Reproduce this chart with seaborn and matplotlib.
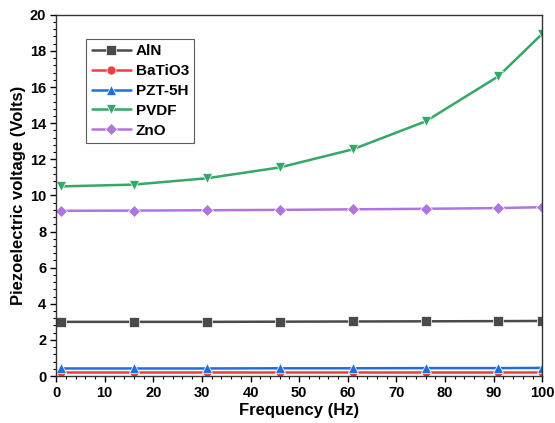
import numpy as np
import pandas as pd
import matplotlib
matplotlib.use("Agg")
import matplotlib.pyplot as plt
import seaborn as sns
from matplotlib.ticker import MultipleLocator


FREQ = [1, 16, 31, 46, 61, 76, 91, 100]

ALN = [3.0, 3.0, 3.0, 3.01, 3.02, 3.03, 3.04, 3.05]
BATIO3 = [0.25, 0.25, 0.25, 0.25, 0.25, 0.25, 0.25, 0.25]
PZT5H = [0.42, 0.42, 0.42, 0.43, 0.43, 0.44, 0.44, 0.45]
PVDF = [10.5, 10.6, 10.95, 11.55, 12.55, 14.1, 16.6, 18.95]
ZNO = [9.15, 9.16, 9.18, 9.2, 9.23, 9.26, 9.3, 9.35]

MATERIALS = ["AlN", "BaTiO3", "PZT-5H", "PVDF", "ZnO"]
COLORS = ["#4a4a4a", "#f03c3c", "#1f6ee0", "#34a866", "#b074e0"]
MARKERS = ["s", "o", "^", "v", "D"]


def main():
    sns.set_style("ticks")
    plt.rcParams["font.family"] = ["Liberation Sans", "DejaVu Sans"]
    plt.rcParams["font.weight"] = "bold"
    plt.rcParams["text.color"] = "black"
    plt.rcParams["axes.labelcolor"] = "black"
    plt.rcParams["xtick.color"] = "black"
    plt.rcParams["ytick.color"] = "black"

    frames = []
    for name, vals in zip(MATERIALS, [ALN, BATIO3, PZT5H, PVDF, ZNO]):
        frames.append(pd.DataFrame({"Frequency": FREQ, "Voltage": vals, "Material": name}))
    df = pd.concat(frames, ignore_index=True)

    fig = plt.figure(figsize=(5.55, 4.23), dpi=100)
    ax = fig.add_axes([0.101, 0.111, 0.876, 0.854])

    sns.lineplot(
        data=df,
        x="Frequency",
        y="Voltage",
        hue="Material",
        style="Material",
        hue_order=MATERIALS,
        style_order=MATERIALS,
        palette=COLORS,
        markers=MARKERS,
        dashes=False,
        markersize=6.5,
        markeredgewidth=0.5,
        linewidth=1.8,
        ax=ax,
    )

    ax.set_xlim(0, 100)
    ax.set_ylim(0, 20)
    ax.xaxis.set_major_locator(MultipleLocator(10))
    ax.xaxis.set_minor_locator(MultipleLocator(2))
    ax.yaxis.set_major_locator(MultipleLocator(2))
    ax.yaxis.set_minor_locator(MultipleLocator(0.4))
    ax.tick_params(which="major", direction="out", length=4, width=1, labelsize=10.5, pad=3)
    ax.tick_params(which="minor", direction="out", length=2.5, width=0.8)
    for spine in ax.spines.values():
        spine.set_linewidth(1)
        spine.set_color("#333333")

    ax.set_xlabel("Frequency (Hz)", fontsize=12, fontweight="bold", labelpad=2)
    ax.set_ylabel("Piezoelectric voltage (Volts)", fontsize=12, fontweight="bold", labelpad=3)

    leg = ax.legend(
        loc="upper left",
        bbox_to_anchor=(0.062, 0.933),
        borderaxespad=0,
        frameon=True,
        fancybox=False,
        edgecolor="#333333",
        fontsize=11,
        handlelength=2.6,
        labelspacing=0.38,
        borderpad=0.35,
        handletextpad=0.3,
    )
    leg.get_frame().set_linewidth(0.8)

    fig.savefig("out.png", dpi=100)
    plt.close(fig)


if __name__ == "__main__":
    main()
